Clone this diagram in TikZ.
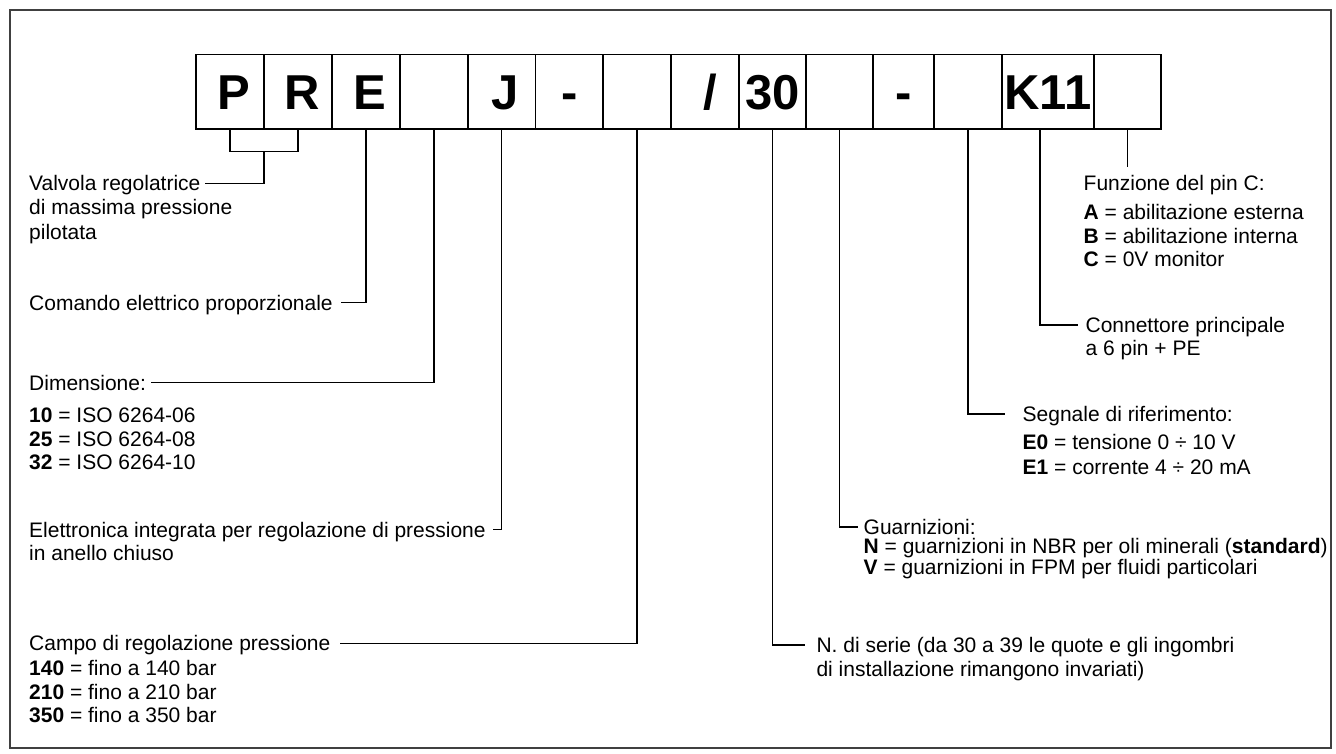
\documentclass[tikz,border=0pt]{standalone}
\usepackage{fontspec}
\setmainfont{Liberation Sans}
\begin{document}
\begin{tikzpicture}[x=1pt,y=-1pt,
  box/.style={draw=black, line width=1.6pt, minimum height=74.7pt, inner sep=0pt,
    font=\fontsize{49}{49}\selectfont\bfseries, text height=35pt, text depth=0pt},
  con/.style={draw=black, line width=1.1pt},
  lbl/.style={anchor=west, inner sep=0pt, font=\fontsize{21}{24}\selectfont,
    text height=15pt, text depth=0pt},
  frame/.style={draw=black!75, line width=1.6pt}]
\useasboundingbox (0,0) rectangle (1336,753);
\draw[frame] (10,10) rectangle (1331,748);
% code boxes
\node[box, minimum width=68pt]   (bP)  at (230,91.65)    {\hspace*{8pt}P};
\node[box, minimum width=68pt]   (bR)  at (298,91.65)    {\hspace*{8pt}R};
\node[box, minimum width=68pt]   (bE)  at (366,91.65)    {\hspace*{8pt}E};
\node[box, minimum width=68pt]   (b4)  at (434,91.65)    {};
\node[box, minimum width=67.5pt] (bJ)  at (501.75,91.65) {\hspace*{6pt}J};
\node[box, minimum width=67.5pt] (bD1) at (569.25,91.65) {-};
\node[box, minimum width=68pt]   (b7)  at (637,91.65)    {};
\node[box, minimum width=68pt]   (bS)  at (705,91.65)    {\hspace*{10pt}/};
\node[box, minimum width=67pt]   (b30) at (772.5,91.65)  {30};
\node[box, minimum width=67pt]   (b10) at (839.5,91.65)  {};
\node[box, minimum width=61pt]   (bD2) at (903.5,91.65)  {-};
\node[box, minimum width=68pt]   (b12) at (968,91.65)    {};
\node[box, minimum width=92pt]   (bK)  at (1048,91.65)   {K11};
\node[box, minimum width=67pt]   (b14) at (1127.5,91.65) {};
% left labels
\node[lbl] (valv1) at (29,183.3) {Valvola regolatrice};
\node[lbl] (valv2) at (29,207.3) {di massima pressione};
\node[lbl] (valv3) at (29,231.7) {pilotata};
\node[lbl] (comando) at (29,302.7) {Comando elettrico proporzionale};
\node[lbl] (dim) at (29,382.5) {Dimensione:};
\node[lbl] (d10) at (29,415) {\textbf{10} = ISO 6264-06};
\node[lbl] (d25) at (29,439) {\textbf{25} = ISO 6264-08};
\node[lbl] (d32) at (29,462) {\textbf{32} = ISO 6264-10};
\node[lbl] (elet1) at (29,529.5) {Elettronica integrata per regolazione di pressione};
\node[lbl] (elet2) at (29,553.3) {in anello chiuso};
\node[lbl] (campo) at (29,643.3) {Campo di regolazione pressione};
\node[lbl] (c140) at (29,668.3) {\textbf{140} = fino a 140 bar};
\node[lbl] (c210) at (29,691.7) {\textbf{210} = fino a 210 bar};
\node[lbl] (c350) at (29,715) {\textbf{350} = fino a 350 bar};
% right labels
\node[lbl] (funz) at (1083.5,183.3) {Funzione del pin C:};
\node[lbl] (fA) at (1083.5,211.7) {\textbf{A} = abilitazione esterna};
\node[lbl] (fB) at (1083.5,236) {\textbf{B} = abilitazione interna};
\node[lbl] (fC) at (1083.5,259.3) {\textbf{C} = 0V monitor};
\node[lbl] (conn1) at (1085.4,325) {Connettore principale};
\node[lbl] (conn2) at (1085.4,348.3) {a 6 pin + PE};
\node[lbl] (segn) at (1022.5,414) {Segnale di riferimento:};
\node[lbl] (e0) at (1022.5,441.7) {\textbf{E0} = tensione 0 ÷ 10 V};
\node[lbl] (e1) at (1022.5,466.7) {\textbf{E1} = corrente 4 ÷ 20 mA};
\node[lbl] (guar) at (863.5,527) {Guarnizioni:};
\node[lbl] (gN) at (863.5,545.5) {\textbf{N} = guarnizioni in NBR per oli minerali (\textbf{standard})};
\node[lbl] (gV) at (863.5,567) {\textbf{V} = guarnizioni in FPM per fluidi particolari};
\node[lbl] (serie1) at (816.3,645) {N. di serie (da 30 a 39 le quote e gli ingombri};
\node[lbl] (serie2) at (816.3,668.5) {di installazione rimangono invariati)};
% connectors
\coordinate (brk) at (264,151.7);
\draw[con] (bP.south) |- (brk) -| (bR.south);
\draw[con] (brk) |- ([xshift=4.6pt]valv1.east);
\draw[con] (bE.south) |- ([xshift=7.6pt]comando.east);
\draw[con] (b4.south) |- ([xshift=5pt]dim.east);
\draw[con] (bJ.south) |- ([xshift=7.6pt]elet1.east);
\draw[con] (b7.south) |- ([xshift=9pt]campo.east);
\draw[con] (b30.south) |- ([xshift=-11.8pt]serie1.west);
\draw[con] (b10.south) |- ([xshift=-6pt]guar.west);
\draw[con] (b12.south) |- ([xshift=-17.5pt]segn.west);
\draw[con] ([xshift=-8pt]bK.south) |- ([xshift=-7.8pt]conn1.west);
\path (b14.south |- funz.north) ++(0,-8.5) coordinate (fzend);
\draw[con] (b14.south) -- (fzend);
\end{tikzpicture}
\end{document}
